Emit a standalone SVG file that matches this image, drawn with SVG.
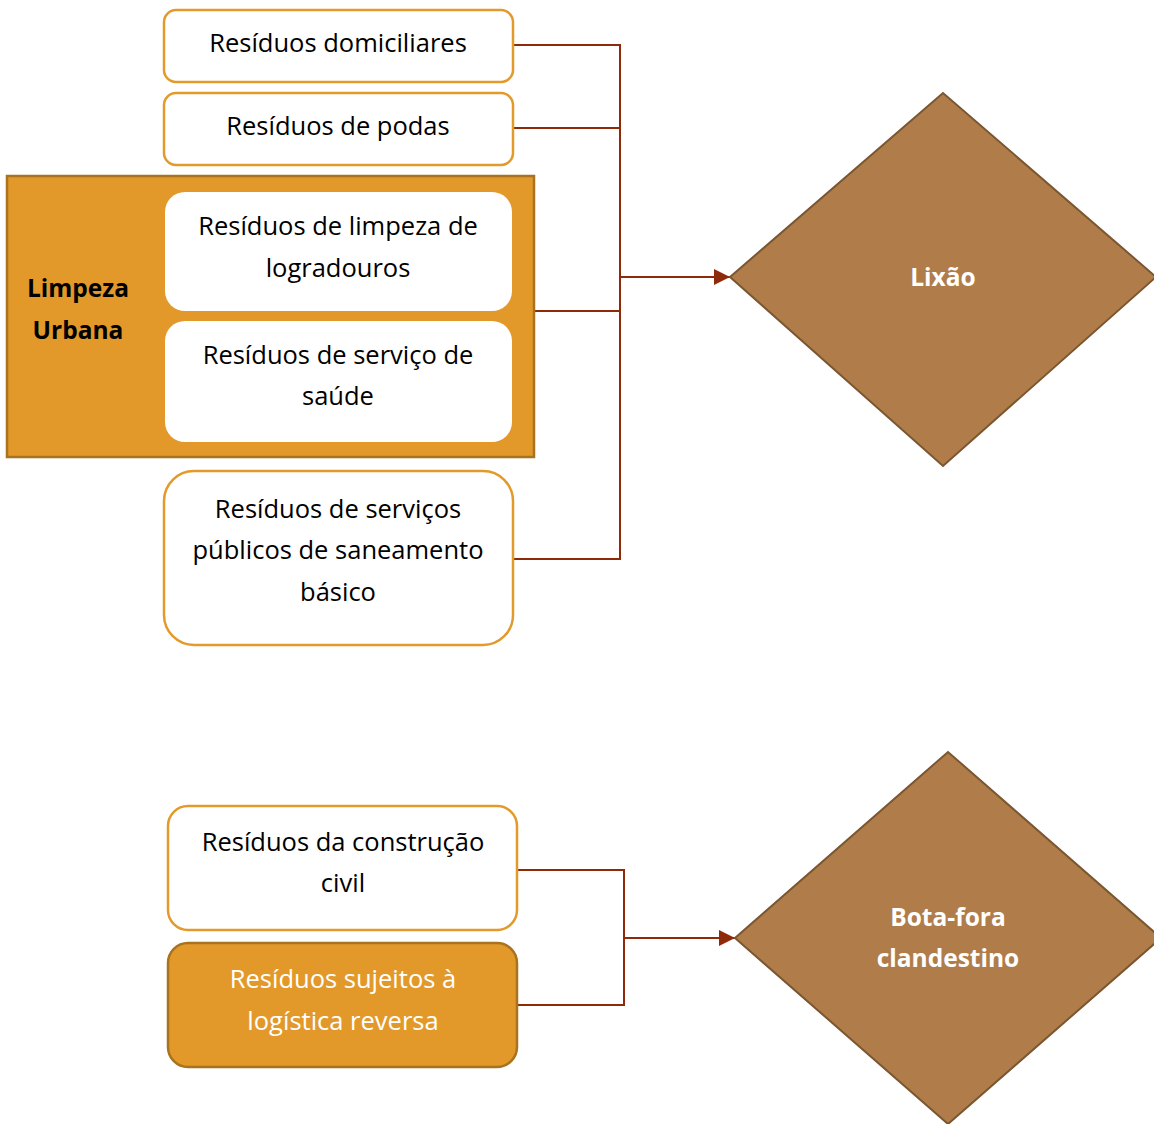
<svg xmlns="http://www.w3.org/2000/svg" width="1154" height="1124" viewBox="0 0 1154 1124">
<style>
text{font-family:"Open Sans","Liberation Sans",sans-serif;font-size:25.5px;text-anchor:middle;fill:#000}
.wbox{fill:#fff;stroke:#E39A2B;stroke-width:2.5}
.obox{fill:#E2992A;stroke:#A8731F;stroke-width:2.5}
.inner{fill:#fff;stroke:none}
.dia{fill:#B07D4A;stroke:#7A5631;stroke-width:2}
.b{font-weight:bold;font-size:24.5px}
.w{fill:#fff}
.con{fill:none;stroke:#8E2A0A;stroke-width:2}
</style>
<defs>
<marker id="arr" viewBox="0 0 10 10" refX="10" refY="5" markerWidth="8" markerHeight="8" markerUnits="strokeWidth" orient="auto">
<path d="M0,0 L10,5 L0,10 z" fill="#8E2A0A"/>
</marker>
</defs>
<g id="connectors">
<path class="con" d="M513,45 H620 V559 H513"/>
<path class="con" d="M513,128 H620"/>
<path class="con" d="M534,311 H620"/>
<path class="con" d="M620,277 H730" marker-end="url(#arr)"/>
<path class="con" d="M517,870 H624 V1005 H517"/>
<path class="con" d="M624,938 H735" marker-end="url(#arr)"/>
</g>
<g id="n-domiciliares">
<rect class="wbox" x="164" y="10" width="349" height="72" rx="12"/>
<text x="338" y="52">Resíduos domiciliares</text>
</g>
<g id="n-podas">
<rect class="wbox" x="164" y="93" width="349" height="72" rx="12"/>
<text x="338" y="135">Resíduos de podas</text>
</g>
<g id="n-limpeza-urbana">
<rect class="obox" x="7" y="176" width="527" height="281"/>
<text class="b" x="78" y="297">Limpeza</text>
<text class="b" x="78" y="339">Urbana</text>
</g>
<g id="n-logradouros">
<rect class="inner" x="165" y="192" width="347" height="119" rx="20"/>
<text x="338" y="235">Resíduos de limpeza de</text>
<text x="338" y="277">logradouros</text>
</g>
<g id="n-saude">
<rect class="inner" x="165" y="321" width="347" height="121" rx="20"/>
<text x="338" y="364">Resíduos de serviço de</text>
<text x="338" y="405">saúde</text>
</g>
<g id="n-saneamento">
<rect class="wbox" x="164" y="471" width="349" height="174" rx="30"/>
<text x="338" y="518">Resíduos de serviços</text>
<text x="338" y="559">públicos de saneamento</text>
<text x="338" y="601">básico</text>
</g>
<g id="n-lixao">
<polygon class="dia" points="730,277 943,93 1156,277 943,466"/>
<text class="b w" x="943" y="286">Lixão</text>
</g>
<g id="n-construcao">
<rect class="wbox" x="168" y="806" width="349" height="124" rx="20"/>
<text x="343" y="851">Resíduos da construção</text>
<text x="343" y="892">civil</text>
</g>
<g id="n-sujeitos">
<rect class="obox" x="168" y="943" width="349" height="124" rx="20"/>
<text class="w" x="343" y="988">Resíduos sujeitos à</text>
<text class="w" x="343" y="1030">logística reversa</text>
</g>
<g id="n-bota-fora">
<polygon class="dia" points="735,938 948,752 1161,938 948,1124"/>
<text class="b w" x="948" y="926">Bota-fora</text>
<text class="b w" x="948" y="967">clandestino</text>
</g>
</svg>
